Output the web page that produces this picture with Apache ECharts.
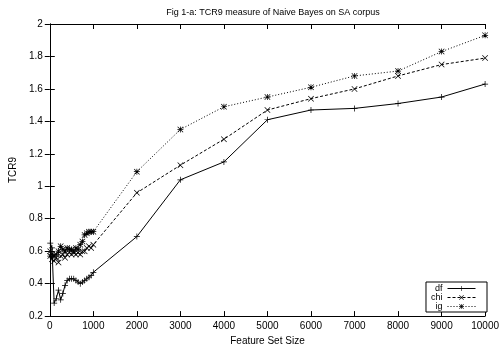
<!DOCTYPE html>
<html><head><meta charset="utf-8">
<script src="https://cdn.jsdelivr.net/npm/echarts@6/dist/echarts.min.js"></script>
<style>html,body{margin:0;padding:0;background:#fff}#c{width:502px;height:351px}</style>
</head><body><div id="c"></div>
<script>
var xValues = [10,50,100,150,200,250,300,350,400,450,500,550,600,650,700,750,800,850,900,950,1000,2000,3000,4000,5000,6000,7000,8000,9000,10000];
var dfValues = [0.65,0.62,0.28,0.31,0.36,0.30,0.34,0.39,0.42,0.43,0.43,0.43,0.42,0.41,0.40,0.41,0.42,0.43,0.44,0.45,0.47,0.69,1.04,1.15,1.41,1.47,1.48,1.51,1.55,1.63];
var chiValues = [0.60,0.55,0.54,0.56,0.53,0.57,0.58,0.56,0.58,0.59,0.58,0.59,0.58,0.59,0.58,0.60,0.60,0.62,0.63,0.62,0.64,0.96,1.13,1.29,1.47,1.54,1.60,1.68,1.75,1.79];
var igValues = [0.57,0.58,0.57,0.58,0.60,0.63,0.61,0.60,0.62,0.61,0.61,0.60,0.62,0.61,0.64,0.66,0.70,0.71,0.72,0.72,0.72,1.09,1.35,1.49,1.55,1.61,1.68,1.71,1.83,1.93];
var seriesNames = ['df','chi','ig'];
var xTicks = {min:0, max:10000, step:1000};
var yTicks = {min:0.2, max:2, step:0.2};

function zip(ys){ return xValues.map(function(x,i){ return [x, ys[i]]; }); }
var plus = 'path://M4.4,0H5.6V4.4H10V5.6H5.6V10H4.4V5.6H0V4.4H4.4Z';
var cross = 'path://M0.8,0L5,4.2L9.2,0L10,0.8L5.8,5L10,9.2L9.2,10L5,5.8L0.8,10L0,9.2L4.2,5L0,0.8Z';
var star = 'path://M4.4,0H5.6V4.4H10V5.6H5.6V10H4.4V5.6H0V4.4H4.4Z M0.8,0L5,4.2L9.2,0L10,0.8L5.8,5L10,9.2L9.2,10L5,5.8L0.8,10L0,9.2L4.2,5L0,0.8Z';
var font = 'Liberation Sans';
function mk(name, ys, type, sym){
  return {name:name, type:'line', data:zip(ys), symbol:sym, symbolSize:6, showSymbol:true,
    lineStyle:{color:'#000', width:1, type:type}, itemStyle:{color:'#000'}, animation:false};
}
var axisBase = {type:'value', axisLine:{show:true, lineStyle:{color:'#000', width:1}},
  axisTick:{show:true, inside:true, length:5, lineStyle:{color:'#000'}}, splitLine:{show:false}};
var chart = echarts.init(document.getElementById('c'));
chart.setOption({
  animation:false,
  backgroundColor:'#fff',
  title:{text:'Fig 1-a: TCR9 measure of Naive Bayes on SA corpus', left:268, textAlign:'center', top:3,
    textStyle:{fontFamily:font, fontSize:9, fontWeight:'normal', color:'#000'}},
  grid:{left:47, right:13, top:24, bottom:34},
  legend:{orient:'vertical', right:15, bottom:39, align:'right', itemWidth:28, itemHeight:6, itemGap:0,
    padding:[2,11,1,5], borderColor:'#000', borderWidth:1, backgroundColor:'#fff',
    lineStyle:{width:1, color:'#000'}, itemStyle:{color:'#000', borderWidth:0},
    textStyle:{fontFamily:font, fontSize:9, lineHeight:9, color:'#000'}, data:seriesNames},
  xAxis:[
    Object.assign({}, axisBase, {min:xTicks.min, max:xTicks.max, interval:xTicks.step, position:'bottom',
      name:'Feature Set Size', nameLocation:'middle', nameGap:18,
      nameTextStyle:{fontFamily:font, fontSize:10, color:'#000'},
      axisLabel:{fontFamily:font, fontSize:10, color:'#000', margin:5, showMaxLabel:true,
        formatter:function(v){ return String(v); }}}),
    Object.assign({}, axisBase, {min:xTicks.min, max:xTicks.max, interval:xTicks.step, position:'top',
      axisLabel:{show:false}})
  ],
  yAxis:[
    Object.assign({}, axisBase, {min:yTicks.min, max:yTicks.max, interval:yTicks.step, position:'left',
      name:'TCR9', nameLocation:'middle', nameGap:29, nameRotate:90,
      nameTextStyle:{fontFamily:font, fontSize:10, color:'#000'},
      axisLabel:{fontFamily:font, fontSize:10, color:'#000', margin:7,
        formatter:function(v){ return String(Number(v.toFixed(1))); }}}),
    Object.assign({}, axisBase, {min:yTicks.min, max:yTicks.max, interval:yTicks.step, position:'right',
      axisLabel:{show:false}})
  ],
  series:[
    mk(seriesNames[0], dfValues, 'solid', plus),
    mk(seriesNames[1], chiValues, [3,2], cross),
    mk(seriesNames[2], igValues, [1,2], star)
  ]
});
</script></body></html>
